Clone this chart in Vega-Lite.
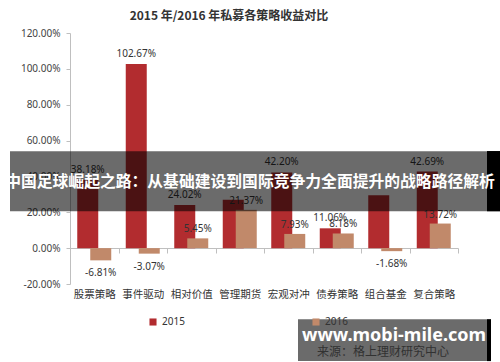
{
  "$schema": "https://vega.github.io/schema/vega-lite/v6.json",
  "width": 388,
  "height": 251,
  "autosize": {"type": "none"},
  "padding": {"left": 70, "top": 33, "right": 42, "bottom": 78},
  "background": "white",
  "title": {"text": "2015 年/2016 年私募各策略收益对比", "font": "Noto Sans CJK SC", "fontSize": 12, "fontWeight": "bold", "color": "#333333", "anchor": "middle", "dx": -35, "offset": 5},
  "config": {"view": {"stroke": null}, "font": "Noto Sans CJK SC",
    "axisY": {"labelOverlap": false},
    "locale": {"number": {"decimal": ".", "thousands": ",", "grouping": [3], "currency": ["", ""], "minus": "-"}}},
  "resolve": {"axis": {"y": "independent"}},
  "datasets": {
    "vals": [
      {"cat": "股票策略", "year": "2015", "v": 0.3818, "shown": true},
      {"cat": "股票策略", "year": "2016", "v": -0.0681, "shown": true},
      {"cat": "事件驱动", "year": "2015", "v": 1.0267, "shown": true},
      {"cat": "事件驱动", "year": "2016", "v": -0.0307, "shown": true},
      {"cat": "相对价值", "year": "2015", "v": 0.2402, "shown": true},
      {"cat": "相对价值", "year": "2016", "v": 0.0545, "shown": true},
      {"cat": "管理期货", "year": "2015", "v": 0.27, "shown": false},
      {"cat": "管理期货", "year": "2016", "v": 0.2137, "shown": true},
      {"cat": "宏观对冲", "year": "2015", "v": 0.4220, "shown": true},
      {"cat": "宏观对冲", "year": "2016", "v": 0.0793, "shown": true},
      {"cat": "债券策略", "year": "2015", "v": 0.1106, "shown": true},
      {"cat": "债券策略", "year": "2016", "v": 0.0818, "shown": true},
      {"cat": "组合基金", "year": "2015", "v": 0.295, "shown": false},
      {"cat": "组合基金", "year": "2016", "v": -0.0168, "shown": true},
      {"cat": "复合策略", "year": "2015", "v": 0.4269, "shown": true},
      {"cat": "复合策略", "year": "2016", "v": 0.1372, "shown": true}
    ]
  },
  "layer": [
    {
      "data": {"name": "vals"},
      "encoding": {
        "x": {"field": "cat", "type": "nominal", "sort": null,
          "scale": {"paddingInner": 0, "paddingOuter": 0},
          "axis": {"title": null, "orient": "bottom", "offset": -36, "domainColor": "#bfbfbf", "tickColor": "#bfbfbf", "tickBand": "extent", "tickSize": 5, "labelPadding": 36, "labelFontSize": 10.5, "labelColor": "#333333", "labelAngle": 0, "labelFont": "Noto Sans CJK SC"}},
        "y": {"field": "v", "type": "quantitative",
          "scale": {"domain": [-0.2, 1.2], "nice": false},
          "axis": {"title": null, "orient": "left", "values": [-0.2, 0, 0.2, 0.4, 0.6, 0.8, 1.0, 1.2], "format": ".2%", "grid": false, "labelOverlap": false, "domainColor": "#bfbfbf", "tickColor": "#bfbfbf", "tickSize": 4, "labelFontSize": 10, "labelColor": "#444444", "labelPadding": 6, "labelFont": "Noto Sans"}}
      },
      "layer": [
        {
          "transform": [{"filter": "datum.year == '2015'"}],
          "mark": {"type": "bar", "width": 21, "xOffset": -6.5},
          "encoding": {"color": {"field": "year", "type": "nominal", "scale": {"domain": ["2015", "2016"], "range": ["#b22c2f", "#c1896a"]},
            "legend": {"title": null, "orient": "none", "legendX": 78, "legendY": 284, "direction": "horizontal", "symbolType": "square", "symbolSize": 50, "columnPadding": 126, "labelFontSize": 10, "labelColor": "#333333", "labelFont": "Noto Sans"}}}
        },
        {
          "transform": [{"filter": "datum.year == '2016'"}],
          "mark": {"type": "bar", "width": 21, "xOffset": 6.5},
          "encoding": {"color": {"field": "year", "type": "nominal"}}
        },
        {
          "transform": [{"filter": "datum.year == '2015' && datum.shown"}],
          "mark": {"type": "text", "dx": -6.5, "dy": -5, "baseline": "bottom", "fontSize": 10, "color": "#333333", "font": "Noto Sans"},
          "encoding": {"text": {"field": "v", "type": "quantitative", "format": ".2%"}}
        },
        {
          "transform": [{"filter": "datum.year == '2016' && datum.shown && datum.v >= 0"}],
          "mark": {"type": "text", "dx": 6.5, "dy": -4, "baseline": "bottom", "fontSize": 10, "color": "#333333", "font": "Noto Sans"},
          "encoding": {"text": {"field": "v", "type": "quantitative", "format": ".2%"}}
        },
        {
          "transform": [{"filter": "datum.year == '2016' && datum.shown && datum.v < 0"}],
          "mark": {"type": "text", "dx": 6.5, "dy": 8, "baseline": "top", "fontSize": 10, "color": "#333333", "font": "Noto Sans"},
          "encoding": {"text": {"field": "v", "type": "quantitative", "format": ".2%"}}
        }
      ]
    },
    {
      "data": {"values": [{"t": "来源：格上理财研究中心"}]},
      "mark": {"type": "text", "fontSize": 12, "color": "#777777", "font": "Noto Sans CJK SC"},
      "encoding": {"text": {"field": "t"}, "x": {"value": 313}, "y": {"datum": -0.58, "type": "quantitative", "axis": null}}
    },
    {
      "data": {"values": [{"t": "band"}]},
      "mark": {"type": "rect", "color": "#000000", "opacity": 0.58},
      "encoding": {"x": {"value": -60}, "x2": {"value": 417}, "y": {"datum": 0.541, "type": "quantitative", "axis": null}, "y2": {"datum": 0.206}}
    },
    {
      "data": {"values": [{"t": "left"}, {"t": "right"}]},
      "mark": {"type": "rect", "color": "#000000"},
      "encoding": {"x": {"condition": {"test": "datum.t == 'left'", "value": -70}, "value": 417}, "x2": {"condition": {"test": "datum.t == 'left'", "value": -60}, "value": 430}, "y": {"datum": 0.541, "type": "quantitative", "axis": null}, "y2": {"datum": 0.206}}
    },
    {
      "data": {"values": [{"t": "中国足球崛起之路：从基础建设到国际竞争力全面提升的战略路径解析"}]},
      "mark": {"type": "text", "fontSize": 15.8, "fontWeight": "bold", "color": "#ffffff", "font": "Noto Sans CJK SC"},
      "encoding": {"text": {"field": "t"}, "x": {"value": 180}, "y": {"datum": 0.368, "type": "quantitative", "axis": null}}
    },
    {
      "data": {"values": [{"t": "box"}]},
      "mark": {"type": "rect", "color": "#000000", "opacity": 0.58},
      "encoding": {"x": {"value": 228}, "x2": {"value": 417}, "y": {"datum": -0.396, "type": "quantitative", "axis": null}, "y2": {"datum": -0.63}}
    },
    {
      "data": {"values": [{"t": "edge"}]},
      "mark": {"type": "rect", "color": "#000000"},
      "encoding": {"x": {"value": 417}, "x2": {"value": 421}, "y": {"datum": -0.396, "type": "quantitative", "axis": null}, "y2": {"datum": -0.63}}
    },
    {
      "data": {"values": [{"t": "www.mobi-mile.com"}]},
      "mark": {"type": "text", "fontSize": 18, "fontWeight": "bold", "color": "#ffffff", "font": "Noto Sans"},
      "encoding": {"text": {"field": "t"}, "x": {"value": 324}, "y": {"datum": -0.491, "type": "quantitative", "axis": null}}
    }
  ]
}
